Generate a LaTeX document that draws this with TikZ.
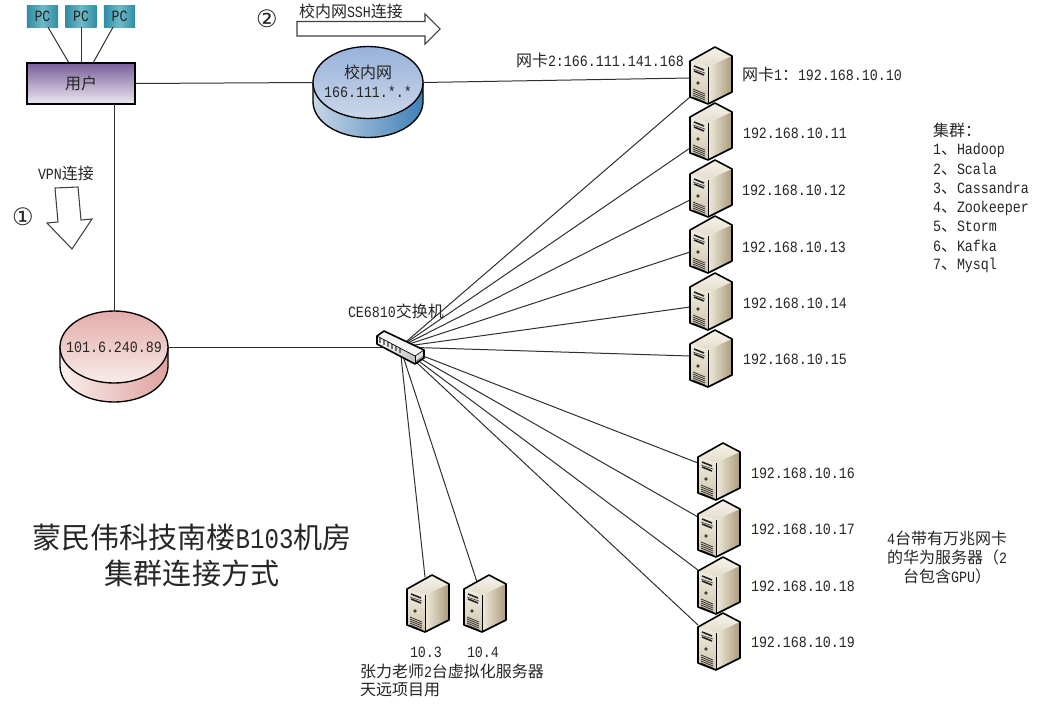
\documentclass[tikz,border=0pt]{standalone}
\usepackage{fontspec}
\setmainfont{Liberation Mono}[FakeStretch=0.85]
\newfontfamily\cjkfam{Noto Sans CJK SC}
\newfontfamily\circfam{DejaVu Sans}
\usetikzlibrary{shapes.geometric,calc}
\newcommand{\zh}[1]{{\cjkfam\fontsize{12}{15}\selectfont #1}}
\newcommand{\bigzh}[1]{{\cjkfam\fontsize{21.8}{26}\selectfont #1}}
\definecolor{lnk}{HTML}{303030}
\definecolor{pcdark}{HTML}{2F8CA3}
\definecolor{pclight}{HTML}{6DBAC8}
\definecolor{usertop}{HTML}{7A5F9A}
\definecolor{userbot}{HTML}{EDE8F2}
\definecolor{bluetop}{HTML}{98B2DC}
\definecolor{bluebot}{HTML}{CAD7E8}
\definecolor{blueside}{HTML}{3F80B8}
\definecolor{blueleft}{HTML}{C8D6E8}
\definecolor{pinktop}{HTML}{E3ACA9}
\definecolor{pinkbot}{HTML}{F8ECEA}
\definecolor{pinkside}{HTML}{DFA19D}
\definecolor{pinkleft}{HTML}{FAF0EE}
\definecolor{srvtop}{HTML}{F5F2EA}
\definecolor{srvtopb}{HTML}{E4DDCB}
\definecolor{srvfront}{HTML}{F1ECDF}
\definecolor{srvfrontb}{HTML}{CFC6AC}
\definecolor{srvrl}{HTML}{F0EADC}
\definecolor{srvrr}{HTML}{A99B7A}
\tikzset{
  x=0.75pt,y=-0.75pt,
  txt/.style={inner sep=0pt,outer sep=0pt,font=\fontsize{11.75}{15}\selectfont,text=black!85},
  lbl/.style={txt,anchor=west},
  ctr/.style={txt,anchor=center,align=center},
  link/.style={draw=lnk,line width=0.75pt},
  hollow/.style={draw=black!75,fill=white,line width=0.8pt,line join=miter},
  pcbox/.style={txt,minimum width=23.5pt,minimum height=16pt,left color=pcdark,right color=pcdark,middle color=pclight},
  userbox/.style={txt,draw=black,line width=0.8pt,minimum width=81pt,minimum height=30.75pt,top color=usertop,bottom color=userbot},
  diskb/.style={ellipse,inner sep=0pt,outer sep=0pt,draw=black,line width=1pt,minimum width=82.5pt,minimum height=54pt,top color=bluetop,bottom color=bluebot},
  diskp/.style={ellipse,inner sep=0pt,outer sep=0pt,draw=black,line width=1pt,minimum width=81pt,minimum height=54pt,top color=pinktop,bottom color=pinkbot},
  srvnode/.style={inner sep=0pt,outer sep=0pt,minimum width=31.5pt,minimum height=43.5pt},
  swnode/.style={inner sep=0pt,outer sep=0pt,minimum width=36pt,minimum height=25.5pt},
  server/.pic={
    \path[top color=srvtop,bottom color=srvtopb] (-21,-15)--(4,-29)--(21,-20)--(-3,-9)--cycle;
    \path[left color=srvrl,right color=srvrr] (-3,-9)--(21,-20)--(21,16)--(-3,28)--cycle;
    \path[top color=srvfront,bottom color=srvfrontb] (-21,-15)--(-3,-9)--(-3,28)--(-21,21)--cycle;
    \draw[line width=0.6pt,black] (-3,-9)--(-3,28);
    \draw[line width=1.2pt,black!85] (-17,-10)--(-7,-6);
    \draw[line width=1.2pt,black!85] (-17,-5)--(-7,-1);
    \draw[line width=0.5pt,black!70] (-18,-7)--(-6,-3);
    \fill[black!75] (-13,7) circle[radius=1.8];
    \foreach \d in {0,2,4,6,8}{\draw[line width=0.6pt,black!80] (-18,13+\d)--(-6,18+\d);}
    \draw[line width=1.2pt,black,line join=round] (-21,-15)--(4,-29)--(21,-20)--(21,16)--(-3,28)--(-21,21)--cycle;
  },
  switchpic/.pic={
    \path[fill=white!92!gray] (-23,-11)--(-16,-16)--(24,3)--(15,9)--cycle;
    \path[left color=white,right color=black!25] (-23,-11)--(15,9)--(15,17)--(-23,-3)--cycle;
    \path[fill=black!45] (15,9)--(24,3)--(24,11)--(15,17)--cycle;
    \path[fill=black!12] (15,9)--(24,3)--(24,8)--(15,14)--cycle;
    \foreach \d in {0,4,8,12,16,20}{\draw[line width=1.1pt,black!55] (-20+\d,-9+\d/2)--(-20+\d,-4.5+\d/2);}
    \draw[line width=0.5pt,black] (-23,-11)--(15,9)--(24,3);
    \draw[line width=0.6pt,black] (15,9)--(15,17);
    \draw[line width=1.2pt,black,line join=round] (-23,-11)--(-16,-16)--(24,3)--(24,11)--(15,17)--(-23,-3)--cycle;
  }
}
\newcommand{\diskside}[7]{% cx cy rx ry d leftcolor rightcolor
  \path[draw=black,line width=1pt,left color=#6,right color=#7]
    ({#1-#3},#2) -- ({#1-#3},{#2+#5})
    .. controls ({#1-#3},{#2+#5+.5523*#4}) and ({#1-.5523*#3},{#2+#5+#4}) .. (#1,{#2+#5+#4})
    .. controls ({#1+.5523*#3},{#2+#5+#4}) and ({#1+#3},{#2+#5+.5523*#4}) .. ({#1+#3},{#2+#5})
    -- ({#1+#3},#2) -- cycle;
}
\begin{document}
\begin{tikzpicture}
\useasboundingbox (0,0) rectangle (1038,707);
\fill[white] (0,0) rectangle (1038,707);

% disks
\diskside{368}{82.5}{55}{36}{19}{blueleft}{blueside}
\diskside{114}{347}{54}{36}{19}{pinkleft}{pinkside}
\node[diskb] (campus) at (368,82.5) {};
\node[diskp] (public) at (114,347) {};
\node[ctr] (campusname) at (368,72) {\zh{校内网}};
\node[ctr] (campusip) at (368,92) {166.111.*.*};
\node[ctr] (publicip) at (114,347) {101.6.240.89};

% boxes
\node[pcbox] (pc1) at (42.5,16.5) {PC};
\node[pcbox] (pc2) at (81,16.5) {PC};
\node[pcbox] (pc3) at (119.5,16.5) {PC};
\node[userbox] (user) at (81,83.5) {\zh{用户}};

% server and switch placeholders
\foreach \n/\px/\py in {s10/711/76,s11/711/132,s12/711/189,s13/711/245,s14/711/302,s15/711/359,s16/719/472,s17/719/529,s18/719/586,s19/719/642,s3/428/604,s4/485/604}{
  \node[srvnode] (\n) at (\px,\py) {};
}
\node[swnode] (sw) at (400,347) {};

% connectors
\draw[link] ($(pc1.south)+(5.5,0)$) -- ($(user.north)+(-12,0)$);
\draw[link] (pc2.south) -- (user.north);
\draw[link] ($(pc3.south)+(-6.5,0)$) -- ($(user.north)+(12,0)$);
\draw[link] (user.east) -- (campus.west);
\draw[link] (campus.east) -- ($(s10.west)+(0,2)$);
\draw[link] ($(user.south)+(33,0)$) -- (public.north);
\draw[link] (public.east) -- (sw.center);
\foreach \n/\dy in {s10/21,s11/16,s12/11,s13/7,s14/5,s15/-3,s16/-9,s17/-12,s18/-16,s19/-17}{
  \draw[link] (sw.center) -- ($(\n.west)+(0,\dy)$);
}
\draw[link] (sw.center) -- ($(s3.north)+(-3,2)$);
\draw[link] (sw.center) -- ($(s4.north)+(-8,7)$);

% icons
\foreach \n in {s10,s11,s12,s13,s14,s15,s16,s17,s18,s19,s3,s4}{
  \pic at (\n) {server};
}
\pic at (sw) {switchpic};

% arrows
\draw[hollow] (297,21.5) -- (425,21.5) -- (425,14) -- (440,29) -- (425,44) -- (425,36) -- (297,36) -- cycle;
\draw[hollow] (55,188) -- (78,187) -- (81,220) -- (92,219) -- (72,249) -- (47,223) -- (58,222) -- cycle;

% labels
\node[txt,anchor=center,font=\fontsize{18}{20}\selectfont\circfam] (n2) at (267,19) {②};
\node[txt,anchor=center,font=\fontsize{18}{20}\selectfont\circfam] (n1) at (23,217) {①};
\node[lbl] (ssh) at (299,11) {\zh{校内网}SSH\zh{连接}};
\node[lbl] (vpn) at (38,173) {VPN\zh{连接}};
\node[lbl] (nic2) at (516,60) {\zh{网卡}2:166.111.141.168};
\node[lbl] (ce) at (348,311) {CE6810\zh{交换机}};
\node[lbl] (ip10) at (742,74) {\zh{网卡}1\zh{：}192.168.10.10};
\node[lbl] (ip11) at (743,133) {192.168.10.11};
\node[lbl] (ip12) at (742,190) {192.168.10.12};
\node[lbl] (ip13) at (742,247) {192.168.10.13};
\node[lbl] (ip14) at (743,303) {192.168.10.14};
\node[lbl] (ip15) at (743,359) {192.168.10.15};
\node[lbl] (ip16) at (751,473) {192.168.10.16};
\node[lbl] (ip17) at (751,529) {192.168.10.17};
\node[lbl] (ip18) at (751,586) {192.168.10.18};
\node[lbl] (ip19) at (751,642) {192.168.10.19};
\node[lbl] (ip3) at (410,652) {10.3};
\node[lbl] (ip4) at (467,652) {10.4};
\node[lbl] (t1) at (360,671) {\zh{张力老师}2\zh{台虚拟化服务器}};
\node[lbl] (t2) at (360,690) {\zh{天远项目用}};
\node[lbl] (c0) at (933,130) {\zh{集群：}};
\node[lbl] (c1) at (933,150) {1\zh{、}Hadoop};
\node[lbl] (c2) at (933,169) {2\zh{、}Scala};
\node[lbl] (c3) at (933,188) {3\zh{、}Cassandra};
\node[lbl] (c4) at (933,208) {4\zh{、}Zookeeper};
\node[lbl] (c5) at (933,227) {5\zh{、}Storm};
\node[lbl] (c6) at (933,246) {6\zh{、}Kafka};
\node[lbl] (c7) at (933,265) {7\zh{、}Mysql};
\node[ctr] (h1) at (947,538) {4\zh{台带有万兆网卡}};
\node[ctr] (h2) at (947,557) {\zh{的华为服务器（}2};
\node[ctr] (h3) at (947,576) {\zh{台包含}GPU\zh{）}};
\node[ctr,font=\fontsize{21.3}{26}\selectfont] (title1) at (192,538) {\bigzh{蒙民伟科技南楼}B103\bigzh{机房}};
\node[ctr] (title2) at (192,573) {\bigzh{集群连接方式}};
\end{tikzpicture}
\end{document}
